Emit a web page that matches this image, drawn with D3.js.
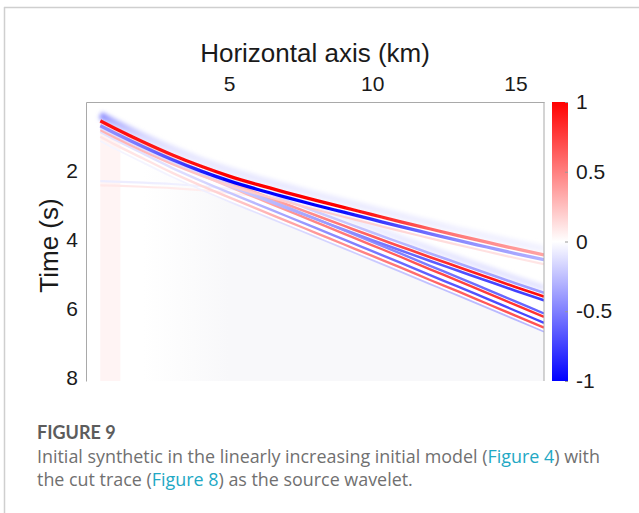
<!DOCTYPE html>
<html><head><meta charset="utf-8">
<script src="https://cdn.jsdelivr.net/npm/d3@7"></script>
<style>
html,body{margin:0;padding:0;background:#fff;}
svg{display:block;}
</style></head><body>
<svg id="chart" width="639" height="513"></svg>
<script>
// ---------- data ----------
const xDomain = [0, 16];          // km
const tDomain = [0, 8.1];         // s
const xTicks = [5, 10, 15];
const tTicks = [2, 4, 6, 8];
const cbTicks = [1, 0.5, 0, -0.5, -1];

const offsets = [0.5,1,2,3,4,5,6,7,8,9,10,11,12,13,14,15,16];
// arrival times (s) of the events
const tDiving = [0.55,0.76,1.16,1.53,1.86,2.15,2.40,2.63,2.85,3.06,3.27,3.48,3.68,3.88,4.07,4.26,4.44];
const tRefl1  = [0.65,0.86,1.25,1.63,1.98,2.32,2.65,2.97,3.28,3.59,3.90,4.20,4.50,4.79,5.08,5.37,5.65];
const tRefl2  = [0.70,0.92,1.33,1.74,2.11,2.46,2.80,3.14,3.48,3.82,4.16,4.50,4.85,5.19,5.54,5.89,6.24];
const offsetsFaint = [0.5,1,2,3,4,5,6];
const tFaint = [2.36,2.37,2.40,2.44,2.50,2.58,2.68];

// amplitudes (normalised, signed)
const ampDivHalo   = [-0.45,-0.3,-0.16,-0.11,-0.09,-0.09,-0.09,-0.09,-0.08,-0.08,-0.08,-0.07,-0.07,-0.06,-0.06,-0.06,-0.05];
const ampDivPeak   = [0.95,0.95,0.92,0.92,0.95,1,1,1,1,0.98,0.9,0.76,0.62,0.52,0.45,0.4,0.36];
const ampDivTrough = [-0.45,-0.45,-0.55,-0.7,-0.88,-1,-1,-1,-1,-0.95,-0.82,-0.68,-0.56,-0.46,-0.4,-0.35,-0.3];
const ampDivTail   = [0.3,0.3,0.28,0.25,0.22,0.2,0.2,0.2,0.2,0.2,0.18,0.16,0.14,0.13,0.12,0.11,0.1];
const envRefl1 = [0.15,0.15,0.15,0.16,0.18,0.24,0.3,0.38,0.46,0.55,0.63,0.71,0.79,0.85,0.9,0.93,0.95];
const envRefl2 = [0.12,0.12,0.12,0.14,0.17,0.24,0.32,0.4,0.47,0.53,0.59,0.65,0.7,0.74,0.77,0.8,0.8];
const ampFaint = [0.09,0.09,0.09,0.08,0.07,0.06,0.05];

// wavelet lobes: time lag (s) and relative weight
const lagDiving = [-0.17, 0, 0.14, 0.27];
const lagRefl1 = [-0.25, -0.11, 0, 0.11];
const wRefl1   = [-0.12, -0.4, 1, -0.8];
const lagRefl2 = [-0.1, 0, 0.17, 0.31, 0.43];
const wRefl2   = [-0.75, 1, -0.9, 0.85, -0.35];
const lagFaint = [-0.06, 0.06];
const wFaint   = [-0.8, 1];

const nearBand = [0.5, 1.2];      // km, faint near-offset column
const nearBandAmp = 0.045;
const codaFade = [2, 5];          // km, faint coda fades in

// ---------- setup ----------
const svg = d3.select("#chart");
const P = {left: 86, right: 544, top: 102, bottom: 381};
const x = d3.scaleLinear().domain(xDomain).range([P.left, P.right]);
const y = d3.scaleLinear().domain(tDomain).range([P.top, P.bottom]);
const color = d3.scaleLinear().domain([-1, 0, 1]).range(["#0000ff", "#ffffff", "#ff0000"]);
const fontChart = "'Liberation Sans', Arial, Helvetica, sans-serif";

const defs = svg.append("defs");
defs.append("clipPath").attr("id", "clip").append("rect")
  .attr("x", P.left).attr("y", P.top).attr("width", P.right - P.left).attr("height", P.bottom - P.top);
defs.append("filter").attr("id", "soft").attr("x", "-5%").attr("y", "-50%").attr("width", "110%").attr("height", "200%")
  .append("feGaussianBlur").attr("stdDeviation", 0.5);
defs.append("filter").attr("id", "halo").attr("x", "-5%").attr("y", "-50%").attr("width", "110%").attr("height", "200%")
  .append("feGaussianBlur").attr("stdDeviation", 2);
const codaGrad = defs.append("linearGradient").attr("id", "coda").attr("gradientUnits", "userSpaceOnUse")
  .attr("x1", x(codaFade[0])).attr("x2", x(codaFade[1])).attr("y1", 0).attr("y2", 0);
codaGrad.append("stop").attr("offset", 0).attr("stop-color", "#f8f8fa").attr("stop-opacity", 0);
codaGrad.append("stop").attr("offset", 1).attr("stop-color", "#f8f8fa").attr("stop-opacity", 1);

// card border
svg.append("line").attr("x1", 4).attr("x2", 639).attr("y1", 7.5).attr("y2", 7.5)
  .attr("stroke", "#cfcfcf").attr("stroke-width", 1.5);
svg.append("line").attr("x1", 4.5).attr("x2", 4.5).attr("y1", 7).attr("y2", 513)
  .attr("stroke", "#cfcfcf").attr("stroke-width", 1.5);

const g = svg.append("g").attr("clip-path", "url(#clip)");

// faint coda background below the events
const bgIdx = offsets.map((o, i) => i).filter(i => offsets[i] >= codaFade[0]);
g.append("path")
  .datum(bgIdx)
  .attr("d", d3.area().x(i => x(offsets[i])).y0(y(tDomain[1])).y1(i => y(tRefl2[i] + 0.45)).curve(d3.curveMonotoneX))
  .attr("fill", "url(#coda)");

// near-offset column
g.append("rect")
  .attr("x", x(nearBand[0])).attr("width", x(nearBand[1]) - x(nearBand[0]))
  .attr("y", y(tDiving[0] + 0.2)).attr("height", y(tDomain[1]) - y(tDiving[0] + 0.2))
  .attr("fill", color(nearBandAmp));

let gid = 0;
function lobe(xs, ts, lag, amps, width, filt) {
  const id = "lg" + (gid++);
  const x1 = x(xs[0]), x2 = x(xs[xs.length - 1]);
  const grad = defs.append("linearGradient").attr("id", id)
    .attr("gradientUnits", "userSpaceOnUse")
    .attr("x1", x1).attr("x2", x2).attr("y1", 0).attr("y2", 0);
  xs.forEach((o, i) => {
    grad.append("stop").attr("offset", (x(o) - x1) / (x2 - x1)).attr("stop-color", color(amps[i]));
  });
  g.append("path")
    .datum(ts)
    .attr("d", d3.line().x((d, i) => x(xs[i])).y(d => y(d + lag)).curve(d3.curveMonotoneX))
    .attr("fill", "none")
    .attr("stroke", `url(#${id})`)
    .attr("stroke-width", width)
    .attr("filter", `url(#${filt})`);
}

// faint shallow event
lagFaint.forEach((l, k) => lobe(offsetsFaint, tFaint, l, ampFaint.map(a => a * wFaint[k]), 2.2, "soft"));

// reflection 2
lagRefl2.forEach((l, k) => lobe(offsets, tRefl2, l, envRefl2.map(a => a * wRefl2[k]), k === 4 ? 1.8 : 2.4, "soft"));
// reflection 1
lagRefl1.forEach((l, k) => lobe(offsets, tRefl1, l, envRefl1.map(a => a * wRefl1[k]), k === 0 ? 6 : 2.6, k === 0 ? "halo" : "soft"));
// diving wave
lobe(offsets, tDiving, lagDiving[0], ampDivHalo, 7, "halo");
lobe(offsets, tDiving, lagDiving[3], ampDivTail, 2.2, "soft");
lobe(offsets, tDiving, lagDiving[2], ampDivTrough, 3.3, "soft");
lobe(offsets, tDiving, lagDiving[1], ampDivPeak, 3.3, "soft");

// frame
const frameColor = "#a9a9a9";
const axTop = svg.append("g").attr("transform", `translate(0,${P.top})`)
  .call(d3.axisTop(x).tickValues(xTicks).tickSize(0).tickPadding(11));
const axLeft = svg.append("g").attr("transform", `translate(${P.left},0)`)
  .call(d3.axisLeft(y).tickValues(tTicks).tickSize(0).tickPadding(8));
svg.append("line").attr("x1", P.right).attr("x2", P.right).attr("y1", P.top).attr("y2", P.bottom)
  .attr("stroke", frameColor);
[axTop, axLeft].forEach(a => {
  a.select(".domain").attr("stroke", frameColor);
  a.selectAll("text").attr("font-family", fontChart)
    .attr("font-size", 21).attr("fill", "#1a1a1a");
});

svg.append("text").attr("x", (P.left + P.right) / 2).attr("y", 62)
  .attr("text-anchor", "middle")
  .attr("font-family", fontChart).attr("font-size", 26).attr("fill", "#1a1a1a")
  .text("Horizontal axis (km)");
svg.append("text").attr("transform", `translate(58,${(P.top + P.bottom) / 2 + 4}) rotate(-90)`)
  .attr("text-anchor", "middle")
  .attr("font-family", fontChart).attr("font-size", 26).attr("fill", "#1a1a1a")
  .text("Time (s)");

// colorbar
const CB = {left: 552, right: 568};
const cb = d3.scaleLinear().domain([-1, 1]).range([P.bottom, P.top]);
const cbg = defs.append("linearGradient").attr("id", "cbgrad")
  .attr("x1", 0).attr("x2", 0).attr("y1", 1).attr("y2", 0);
[-1, 0, 1].forEach(v => cbg.append("stop").attr("offset", (v + 1) / 2).attr("stop-color", color(v)));
svg.append("rect").attr("x", CB.left).attr("y", P.top).attr("width", CB.right - CB.left)
  .attr("height", P.bottom - P.top).attr("fill", "url(#cbgrad)");
const axCb = svg.append("g").attr("transform", `translate(${CB.right},0)`)
  .call(d3.axisRight(cb).tickValues(cbTicks).tickSize(-3).tickPadding(8).tickFormat(d => String(d)));
axCb.select(".domain").remove();
axCb.selectAll("line").attr("stroke", "#999");
axCb.selectAll("text").attr("font-family", fontChart)
  .attr("font-size", 21).attr("fill", "#1a1a1a");

// caption
const cap = svg.append("g");
cap.append("text").attr("x", 37).attr("y", 439).attr("font-size", 18).attr("font-weight", "bold")
  .attr("font-family", "Lato, sans-serif")
  .attr("fill", "#5c5c5c").text("FIGURE 9");
const capFont = "'Open Sans', Lato, sans-serif";
const l1 = cap.append("text").attr("x", 37).attr("y", 463).attr("font-size", 17.9)
  .attr("font-family", capFont).attr("fill", "#707070");
l1.append("tspan").text("Initial synthetic in the linearly increasing initial model (");
l1.append("tspan").attr("fill", "#22a8c4").text("Figure 4");
l1.append("tspan").text(") with");
const l2 = cap.append("text").attr("x", 37).attr("y", 486).attr("font-size", 17.9)
  .attr("font-family", capFont).attr("fill", "#707070");
l2.append("tspan").text("the cut trace (");
l2.append("tspan").attr("fill", "#22a8c4").text("Figure 8");
l2.append("tspan").text(") as the source wavelet.");
</script>
</body></html>
